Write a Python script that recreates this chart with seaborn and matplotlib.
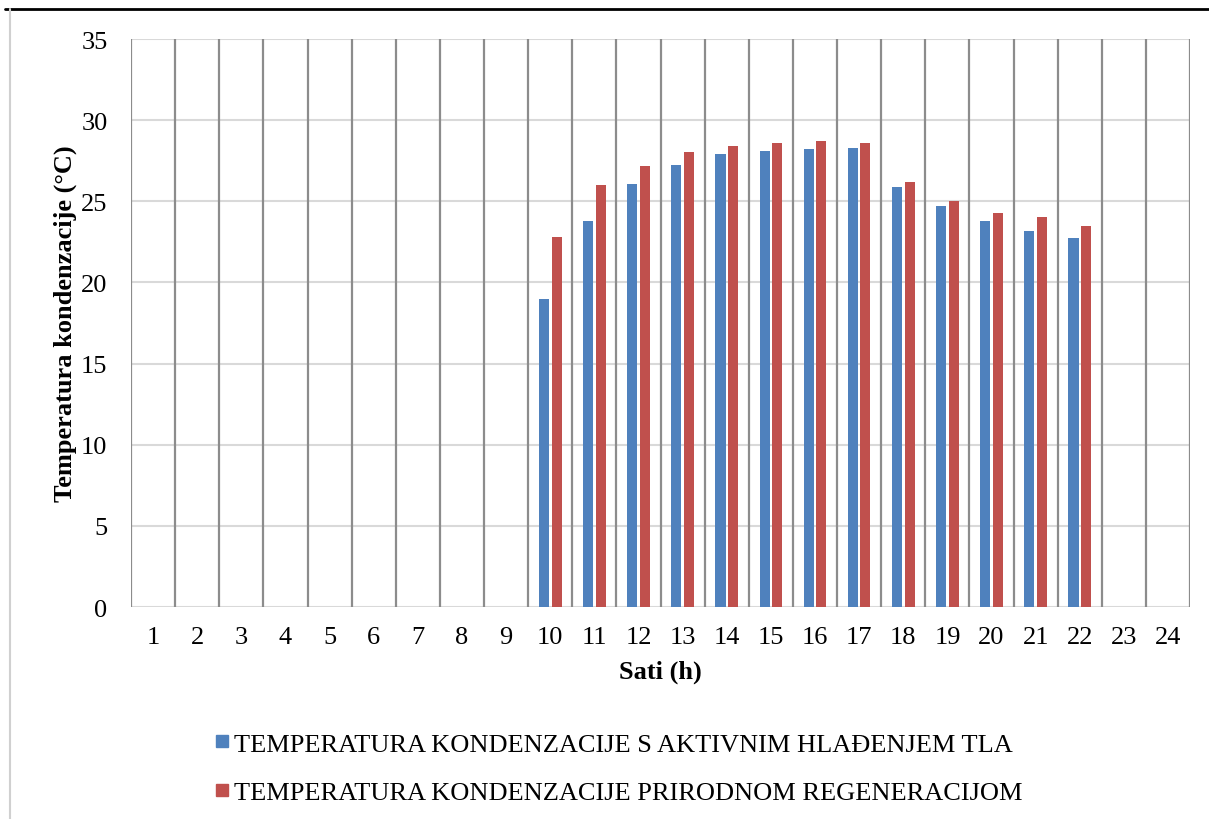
import numpy as np
import pandas as pd
import seaborn as sns
import matplotlib.pyplot as plt
from matplotlib.lines import Line2D

hours = list(range(1, 25))
# values only for hours 10-22, the rest are empty
aktivno = [np.nan] * 9 + [19.0, 23.8, 26.05, 27.24, 27.92, 28.1, 28.23, 28.27,
                          25.86, 24.71, 23.78, 23.17, 22.72] + [np.nan] * 2
prirodno = [np.nan] * 9 + [22.78, 25.99, 27.2, 28.02, 28.4, 28.6, 28.7, 28.6,
                           26.2, 25.0, 24.3, 24.01, 23.47] + [np.nan] * 2
series = ["TEMPERATURA KONDENZACIJE S AKTIVNIM HLAĐENJEM TLA",
          "TEMPERATURA KONDENZACIJE PRIRODNOM REGENERACIJOM"]
colors = ["#4F81BD", "#C0504D"]


def main():
    df = pd.DataFrame({
        "Sat": [str(h) for h in hours] * 2,
        "Temp": aktivno + prirodno,
        "Serija": [series[0]] * len(hours) + [series[1]] * len(hours),
    })

    sns.set_style("white")
    plt.rcParams["font.family"] = ["Liberation Serif", "DejaVu Serif"]
    for k in ["text.color", "axes.labelcolor", "xtick.color", "ytick.color"]:
        plt.rcParams[k] = "black"

    fig = plt.figure(figsize=(12.09, 8.2), dpi=100)
    ax = fig.add_axes([0.1084, 0.2585, 0.876, 0.6927])

    sns.barplot(data=df, x="Sat", y="Temp", hue="Serija",
                order=[str(h) for h in hours], hue_order=series,
                palette=colors, saturation=1, width=0.57, gap=0.2,
                linewidth=0, ax=ax, legend=False, zorder=3)

    ax.set_ylim(0, 35)
    ax.set_xlim(-0.5, len(hours) - 0.5)
    ax.set_yticks(range(0, 36, 5))
    for y in range(0, 36, 5):
        ax.axhline(y, color="#d9d9d9", lw=1.5, zorder=1)
    for x in np.arange(-0.5, len(hours), 1.0):
        ax.axvline(x, color="#8c8c8c", lw=1.6, zorder=2)
    for s in ax.spines.values():
        s.set_visible(False)
    ax.tick_params(axis="both", length=0, labelsize=19)
    ax.tick_params(axis="x", pad=14)
    ax.tick_params(axis="y", pad=17)

    ax.set_xlabel("Sati (h)", fontsize=19, fontweight="bold", labelpad=8)
    ax.set_ylabel("Temperatura kondenzacije (°C)", fontsize=19,
                  fontweight="bold", labelpad=3)

    handles = [Line2D([], [], marker="s", color=c, ls="", markersize=9) for c in colors]
    fig.legend(handles, series, loc="center", bbox_to_anchor=(0.51, 0.062),
               ncol=1, frameon=False, fontsize=19, handletextpad=0.05,
               labelspacing=0.95, handlelength=0.8)

    # page frame from the document
    fig.add_artist(Line2D([0.004, 1.0], [0.988, 0.988], color="black", lw=2,
                          transform=fig.transFigure))
    fig.add_artist(Line2D([0.0085, 0.0085], [0.0, 0.988], color="#d0d0d0", lw=1.5,
                          transform=fig.transFigure))

    fig.savefig("out.png", dpi=100)


if __name__ == "__main__":
    main()
